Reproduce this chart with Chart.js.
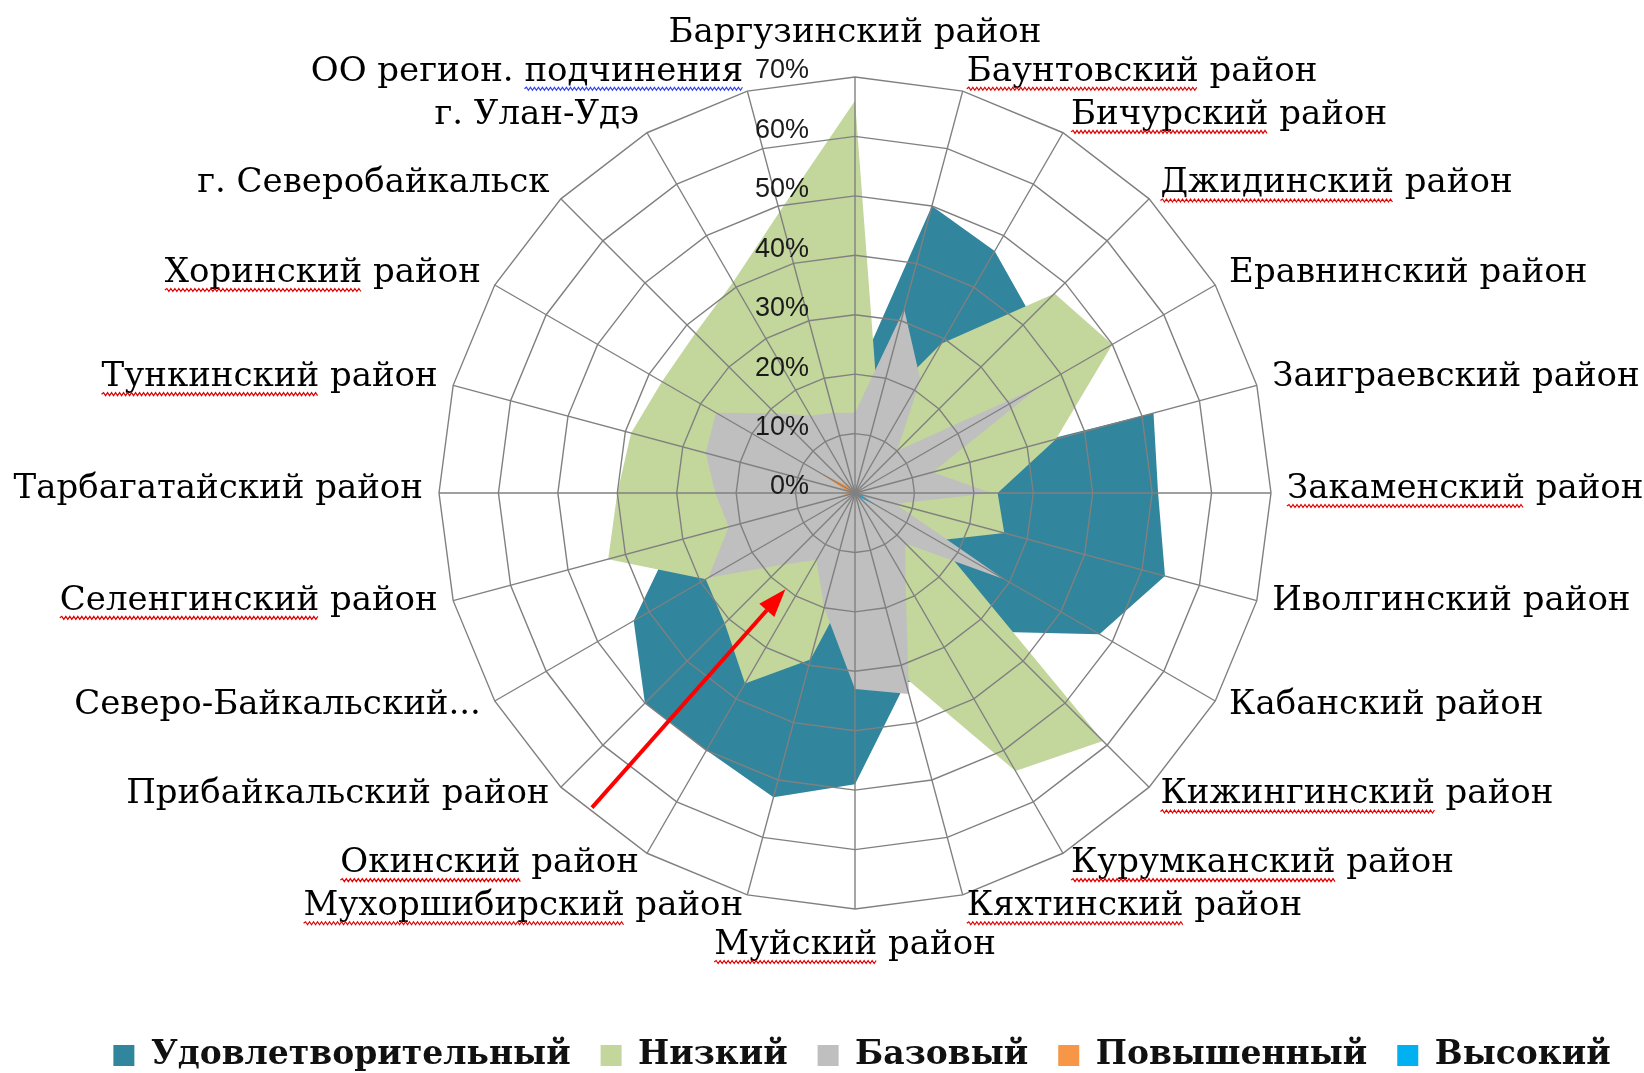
<!DOCTYPE html>
<html lang="ru">
<head>
<meta charset="utf-8">
<title>Уровни по районам</title>
<script src="https://cdn.jsdelivr.net/npm/chart.js@4.4.1/dist/chart.umd.min.js"></script>
<style>
  html, body { margin: 0; padding: 0; background: #fff; }
  canvas { display: block; }
</style>
</head>
<body>
<canvas id="radar" width="1644" height="1073"></canvas>
<script>
// ---- data (percent) ----
const categories = [
  'Баргузинский район', 'Баунтовский район', 'Бичурский район', 'Джидинский район',
  'Еравнинский район', 'Заиграевский район', 'Закаменский район', 'Иволгинский район',
  'Кабанский район', 'Кижингинский район', 'Курумканский район', 'Кяхтинский район',
  'Муйский район', 'Мухоршибирский район', 'Окинский район', 'Прибайкальский район',
  'Северо-Байкальский...', 'Селенгинский район', 'Тарбагатайский район', 'Тункинский район',
  'Хоринский район', 'г. Северобайкальск', 'г. Улан-Удэ', 'ОО регион. подчинения'
];

const seriesNames = ['Удовлетворительный', 'Низкий', 'Базовый', 'Повышенный', 'Высокий'];

const satisfactory = [19, 50, 47, 42, 3, 52, 51, 54, 47.5, 33, 35, 33, 49, 53, 50, 50, 43, 32, 28, 25, 22, 20, 18, 17];
const low          = [66, 15, 29, 47.5, 50, 35, 24, 26, 16, 59, 54, 32, 14, 29, 37, 31, 29, 43, 40, 39, 37.5, 38, 41, 49];
const basic        = [13.5, 32, 22, 10, 36, 13.5, 23, 7, 29, 12, 17, 35, 33, 20, 13, 17, 28.5, 22, 23.5, 26, 27, 19, 15, 14];
const elevated     = [0, 0, 0, 0, 0, 0, 0, 0, 0, 0, 0, 0, 0, 0, 0, 0, 0, 4, 1, 1.5, 7, 1.5, 0, 0];
const high         = [0, 0, 0, 0, 0, 0, 0, 1, 4, 1, 0, 0, 0, 0, 0, 0, 0, 0, 0, 0, 0, 0, 0, 0];

const tickLabels = ['0%', '10%', '20%', '30%', '40%', '50%', '60%', '70%'];

// ---- styling ----
const COLORS = ['#31859C', '#C3D69B', '#BFBFBF', '#F79646', '#00B0F0'];
const GRID = '#808080';
const LABEL_FONT = '34px "DejaVu Serif"';
const TICK_FONT = '27px "Liberation Sans"';

// labels with a spell-check squiggle under one word (as in the source screenshot)
const squiggles = [
  [1, 'first', '#e00000'], [2, 'first', '#e00000'], [3, 'first', '#e00000'],
  [6, 'first', '#e00000'], [9, 'first', '#e00000'], [10, 'first', '#e00000'],
  [11, 'first', '#e00000'], [12, 'first', '#e00000'], [13, 'first', '#e00000'],
  [14, 'first', '#e00000'], [17, 'first', '#e00000'], [19, 'first', '#e00000'],
  [20, 'first', '#e00000'], [23, 'last', '#2a3cff']
];

// red annotation arrow, in (category index, value) terms
const arrowTail = { index: 14.66, value: 69 };
const arrowHead = { index: 14.39, value: 20 };

// fixed plot geometry to match the source layout
const radarGeometry = {
  id: 'radarGeometry',
  afterLayout(chart) {
    const r = chart.scales.r;
    r.xCenter = 855;
    r.yCenter = 493;
    r.drawingArea = 416;
  }
};

function drawSquiggle(ctx, x0, x1, y, color) {
  ctx.save();
  ctx.strokeStyle = color;
  ctx.lineWidth = 1.2;
  ctx.beginPath();
  ctx.moveTo(x0, y);
  let up = true;
  for (let x = x0 + 2; x <= x1; x += 2) {
    ctx.lineTo(x, up ? y - 1.5 : y + 1.5);
    up = !up;
  }
  ctx.stroke();
  ctx.restore();
}

const radarText = {
  id: 'radarText',
  afterDraw(chart) {
    const ctx = chart.ctx;
    const scale = chart.scales.r;
    const n = categories.length;

    // category labels
    ctx.save();
    ctx.font = LABEL_FONT;
    ctx.fillStyle = '#000';
    ctx.textBaseline = 'middle';
    const boxes = [];
    categories.forEach((label, i) => {
      const pos = scale.getPointPosition(i, scale.drawingArea + 16);
      const deg = (i * 360) / n;
      let align = 'left';
      let dy = -4;
      if (deg === 0) { align = 'center'; dy = -28; }
      else if (deg === 180) { align = 'center'; dy = 20; }
      else if (deg > 180) { align = 'right'; }
      ctx.textAlign = align;
      const y = pos.y + dy;
      ctx.fillText(label, pos.x, y);
      const w = ctx.measureText(label).width;
      const left = align === 'left' ? pos.x : align === 'right' ? pos.x - w : pos.x - w / 2;
      boxes[i] = { left, y };
    });

    squiggles.forEach(([i, which, color]) => {
      const label = categories[i];
      const words = label.split(' ');
      let x0, x1;
      if (which === 'first') {
        x0 = boxes[i].left;
        x1 = x0 + ctx.measureText(words[0]).width;
      } else {
        const head = label.slice(0, label.lastIndexOf(' ') + 1);
        x0 = boxes[i].left + ctx.measureText(head).width;
        x1 = boxes[i].left + ctx.measureText(label).width;
      }
      drawSquiggle(ctx, x0, x1, boxes[i].y + 17, color);
    });
    ctx.restore();

    // value axis labels, to the left of the vertical axis
    ctx.save();
    ctx.font = TICK_FONT;
    ctx.fillStyle = '#1a1a1a';
    ctx.textAlign = 'right';
    ctx.textBaseline = 'middle';
    scale.ticks.forEach((tick, i) => {
      const d = scale.getDistanceFromCenterForValue(tick.value);
      ctx.fillText(tickLabels[i], scale.xCenter - 46, scale.yCenter - d - 6);
    });
    ctx.restore();

    // arrow
    const p0 = scale.getPointPosition(arrowTail.index, scale.getDistanceFromCenterForValue(arrowTail.value));
    const p1 = scale.getPointPosition(arrowHead.index, scale.getDistanceFromCenterForValue(arrowHead.value));
    const ang = Math.atan2(p1.y - p0.y, p1.x - p0.x);
    const headLen = 28, headHalf = 10;
    const bx = p1.x - Math.cos(ang) * headLen;
    const by = p1.y - Math.sin(ang) * headLen;
    ctx.save();
    ctx.strokeStyle = '#ff0000';
    ctx.fillStyle = '#ff0000';
    ctx.lineWidth = 4;
    ctx.beginPath();
    ctx.moveTo(p0.x, p0.y);
    ctx.lineTo(bx, by);
    ctx.stroke();
    ctx.beginPath();
    ctx.moveTo(p1.x, p1.y);
    ctx.lineTo(bx + Math.sin(ang) * headHalf, by - Math.cos(ang) * headHalf);
    ctx.lineTo(bx - Math.sin(ang) * headHalf, by + Math.cos(ang) * headHalf);
    ctx.closePath();
    ctx.fill();
    ctx.restore();
  }
};

const seriesData = [satisfactory, low, basic, elevated, high];

new Chart(document.getElementById('radar'), {
  type: 'radar',
  data: {
    labels: categories,
    datasets: seriesNames.map((name, i) => ({
      label: name,
      data: seriesData[i],
      backgroundColor: COLORS[i],
      borderColor: 'rgba(0,0,0,0)',
      borderWidth: 0,
      fill: true,
      pointRadius: 0,
      order: seriesNames.length - i   // first series at the back, like Excel
    }))
  },
  options: {
    responsive: false,
    animation: false,
    layout: { padding: { left: 80, right: 0, top: 0, bottom: -9 } },
    elements: { line: { tension: 0 } },
    scales: {
      r: {
        min: 0,
        max: 70,
        startAngle: 0,
        ticks: { stepSize: 10, display: false },
        grid: { color: GRID, lineWidth: 1.4, z: 1 },
        angleLines: { color: GRID, lineWidth: 1.4 },
        pointLabels: { display: false }
      }
    },
    plugins: {
      tooltip: { enabled: false },
      legend: {
        position: 'bottom',
        labels: {
          boxWidth: 21,
          boxHeight: 21,
          padding: 30,
          color: '#111',
          font: { family: 'DejaVu Serif', size: 33, weight: 'bold' },
          sort: (a, b) => a.datasetIndex - b.datasetIndex
        }
      }
    }
  },
  plugins: [radarGeometry, radarText]
});
</script>
</body>
</html>
